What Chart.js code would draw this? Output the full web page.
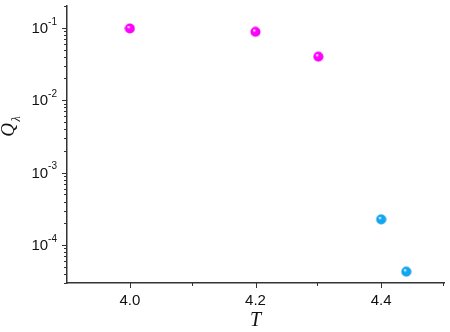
<!DOCTYPE html>
<html>
<head>
<meta charset="utf-8">
<script src="https://cdn.jsdelivr.net/npm/chart.js@4/dist/chart.umd.min.js"></script>
<style>
  html, body { margin: 0; padding: 0; background: #fff; }
  #wrap { width: 450px; height: 332px; }
</style>
</head>
<body>
<div id="wrap"><canvas id="chart" width="450" height="332"></canvas></div>
<script>
// values
const magentaT = [4.0, 4.2, 4.3];
const magentaQ = [0.098, 0.088, 0.040];
const cyanT = [4.4, 4.44];
const cyanQ = [2.27e-4, 4.3e-5];

const xMajor = [4.0, 4.2, 4.4];
const xMinor = [4.1, 4.3, 4.5];
const yExponents = [-1, -2, -3, -4];

const xMin = 3.9, xMax = 4.5;
const yMin = 3e-5, yMax = 0.2;
const axisColor = '#333';
const serif = '"Liberation Serif", "Times New Roman", serif';
const sans = '"Liberation Sans", Arial, sans-serif';

// shaded ball for markers
function ball(color, dark) {
  const c = document.createElement('canvas');
  c.width = 11; c.height = 11;
  const g = c.getContext('2d');
  const grad = g.createRadialGradient(4, 3.8, 0.3, 5.5, 5.5, 5.3);
  grad.addColorStop(0, '#ffffff');
  grad.addColorStop(0.3, color);
  grad.addColorStop(0.85, color);
  grad.addColorStop(1, dark);
  g.fillStyle = grad;
  g.beginPath();
  g.arc(5.5, 5.5, 5, 0, Math.PI * 2);
  g.fill();
  return c;
}

const toPoints = (xs, ys) => xs.map((x, i) => ({ x: x, y: ys[i] }));

// tick marks, y labels with superscripts, axis titles
const axisDecor = {
  id: 'axisDecor',
  afterDraw(chart) {
    const ctx = chart.ctx;
    const xs = chart.scales.x, ys = chart.scales.y;
    const left = chart.chartArea.left, bottom = chart.chartArea.bottom;
    ctx.save();
    ctx.strokeStyle = axisColor;
    ctx.lineWidth = 1;
    ctx.beginPath();
    xMajor.forEach(v => {
      const p = Math.round(xs.getPixelForValue(v)) + 0.5;
      ctx.moveTo(p, bottom); ctx.lineTo(p, bottom + 5);
    });
    xMinor.forEach(v => {
      const p = Math.round(xs.getPixelForValue(v)) - 0.5;
      ctx.moveTo(p, bottom); ctx.lineTo(p, bottom + 3);
    });
    for (let e = -5; e <= -1; e++) {
      for (let k = 1; k <= 9; k++) {
        const v = k * Math.pow(10, e);
        if (v < yMin * 0.999 || v > yMax * 1.001) continue;
        const p = Math.round(ys.getPixelForValue(v)) + 0.5;
        ctx.moveTo(left, p); ctx.lineTo(left - (k === 1 ? 5 : 3), p);
      }
    }
    ctx.stroke();

    // y tick labels 10^n
    ctx.fillStyle = '#111';
    ctx.textBaseline = 'middle';
    yExponents.forEach(e => {
      const p = ys.getPixelForValue(Math.pow(10, e));
      const sup = '-' + Math.abs(e);
      ctx.font = '10px ' + sans;
      const sw = ctx.measureText(sup).width;
      ctx.textAlign = 'right';
      ctx.fillText(sup, left - 10, p - 6);
      ctx.font = '15px ' + sans;
      ctx.fillText('10', left - 10 - sw, p + 1);
    });

    // x title
    ctx.textAlign = 'center';
    ctx.font = 'italic 20px ' + serif;
    ctx.fillText('T', xs.getPixelForValue(4.2), 321);

    // y title
    ctx.translate(9, 130);
    ctx.rotate(-Math.PI / 2);
    ctx.font = 'italic 19px ' + serif;
    ctx.fillText('Q', 0, 0);
    ctx.font = 'italic 12px ' + serif;
    ctx.fillText('λ', 11, 8);
    ctx.restore();
  }
};

new Chart(document.getElementById('chart'), {
  type: 'scatter',
  data: {
    datasets: [
      {
        data: toPoints(magentaT, magentaQ),
        pointStyle: ball('#ff00ff', '#c000c8'),
        pointRadius: 5
      },
      {
        data: toPoints(cyanT, cyanQ),
        pointStyle: ball('#10a6f2', '#0a7fc0'),
        pointRadius: 5
      }
    ]
  },
  plugins: [axisDecor],
  options: {
    responsive: false,
    animation: false,
    layout: { padding: { top: 2, right: 2, left: 0, bottom: 0 } },
    plugins: { legend: { display: false }, tooltip: { enabled: false } },
    scales: {
      x: {
        type: 'linear',
        min: xMin,
        max: xMax,
        afterFit: s => { s.height = 49; },
        afterBuildTicks: s => { s.ticks = xMajor.map(v => ({ value: v })); },
        grid: { display: false, drawTicks: false },
        border: { display: true, color: axisColor, width: 1.5 },
        ticks: {
          padding: 9,
          color: '#111',
          font: { family: sans, size: 15 },
          callback: v => v.toFixed(1)
        },
        title: { display: false }
      },
      y: {
        type: 'logarithmic',
        min: yMin,
        max: yMax,
        afterFit: s => { s.width = 67; },
        grid: { display: false, drawTicks: false },
        border: { display: true, color: axisColor, width: 1.5 },
        ticks: { display: false }
      }
    }
  }
});
</script>
</body>
</html>
